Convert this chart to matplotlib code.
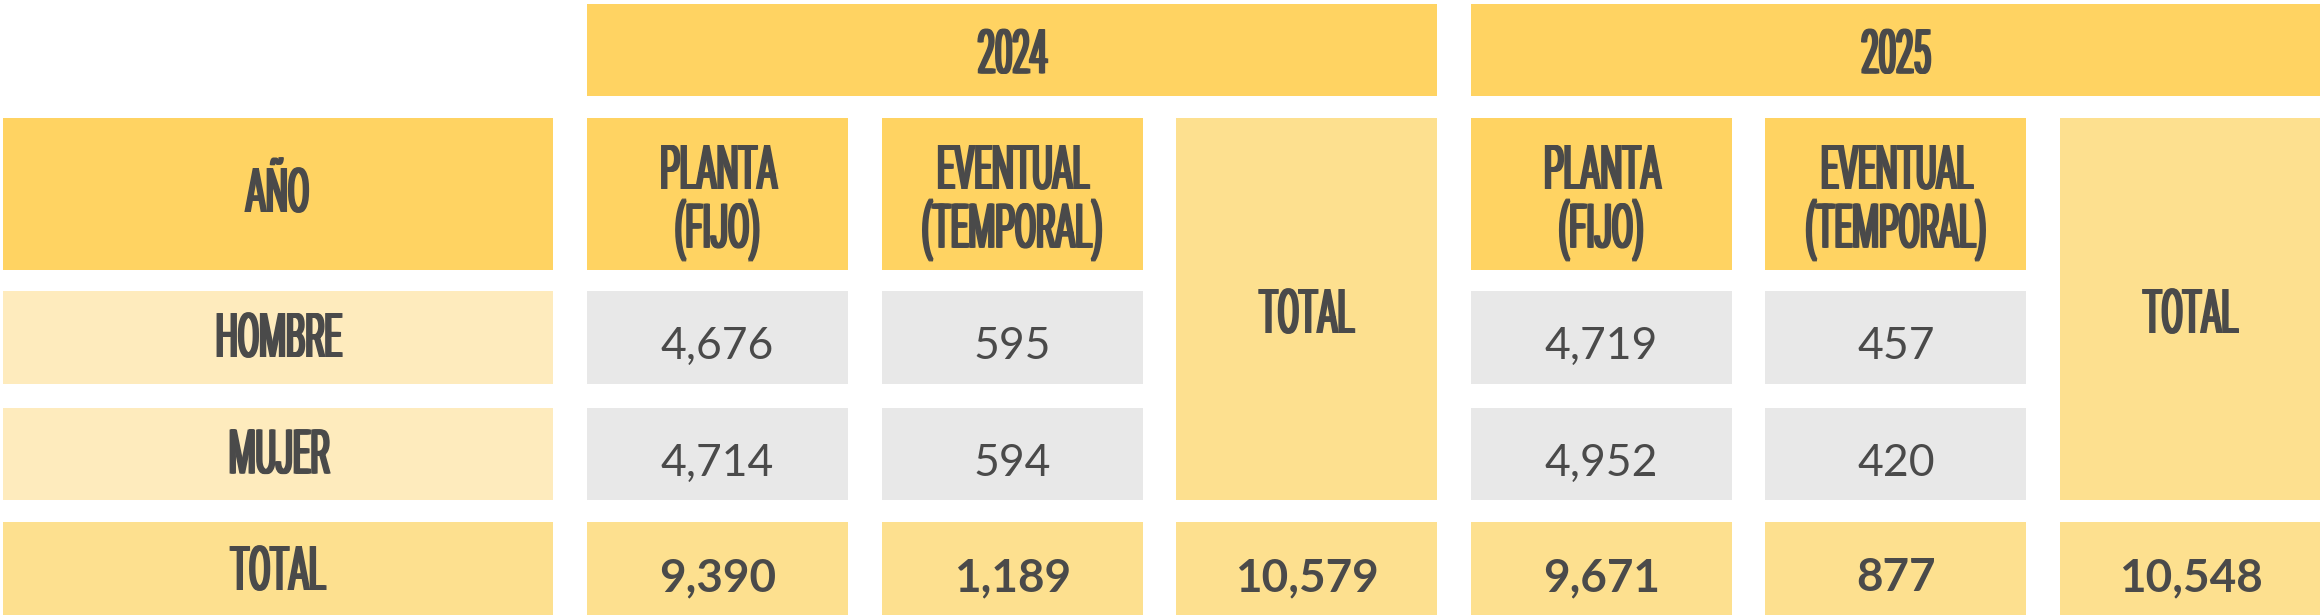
import matplotlib
matplotlib.use("Agg")
import matplotlib.pyplot as plt
from matplotlib.patches import Rectangle
from matplotlib.patheffects import AbstractPathEffect
from matplotlib.transforms import Affine2D

# ---------------- data ----------------
years = ["2024", "2025"]
sub_headers = ["PLANTA\n(FIJO)", "EVENTUAL\n(TEMPORAL)", "TOTAL"]
corner_label = "AÑO"
row_labels = ["HOMBRE", "MUJER"]
total_row_label = "TOTAL"
planta_2024 = [4676, 4714]
eventual_2024 = [595, 594]
planta_2025 = [4719, 4952]
eventual_2025 = [457, 420]
totals_2024 = [9390, 1189, 10579]
totals_2025 = [9671, 877, 10548]

# ---------------- style ----------------
C_HEAD = "#FFD362"
C_LIGHT = "#FDE08F"
C_PALE = "#FEEBBD"
C_GRAY = "#E8E8E8"
C_TEXT = "#4A4A4A"

HEAD_FONT = ["Roboto", "DejaVu Sans"]
NUM_FONT = ["Lato", "DejaVu Sans"]


class Condense(AbstractPathEffect):
    """Narrow glyphs horizontally around each line's centre and thicken
    the vertical stems slightly (condensed display-face look)."""

    def __init__(self, sx, smear):
        super().__init__()
        self.sx = sx
        self.smear = smear

    def draw_path(self, renderer, gc, tpath, affine, rgbFace=None):
        ext = tpath.get_extents()
        c = (ext.x0 + ext.x1) / 2.0
        a = Affine2D().translate(-c, 0).scale(self.sx, 1.0).translate(c, 0) + affine
        n = 5
        for i in range(n):
            dx = -self.smear / 2 + self.smear * i / (n - 1)
            renderer.draw_path(gc, tpath, a + Affine2D().translate(dx, 0), rgbFace)


W, H = 2320, 616
fig = plt.figure(figsize=(W / 100, H / 100), dpi=100)
ax = fig.add_axes([0, 0, 1, 1])
ax.set_xlim(0, W)
ax.set_ylim(H, 0)
ax.axis("off")

# layout grid (pixels)
label_x, label_w = 3, 550
col_x0, col_pitch, col_w = 587, 294.6, 261
yr_top, yr_h = 4, 92
sub_top, sub_h = 118, 152
row_tops = [291, 407.5]
row_h = 92.5
tot_top = 522

cond = [Condense(0.5, 3.5)]


def head_text(x, y, s, **kw):
    # y is the baseline of the last line
    ax.text(x, y, s, ha="center", va="baseline", color=C_TEXT,
            family=HEAD_FONT, fontweight="normal", fontsize=44.5,
            path_effects=cond, linespacing=0.95, **kw)


def num_text(x, y, v, bold=False):
    ax.text(x, y, f"{v:,}", ha="center", va="baseline", color=C_TEXT,
            family=NUM_FONT, fontweight="bold" if bold else "normal",
            fontsize=33 if bold else 32)


def box(x, y, w, h, c):
    ax.add_patch(Rectangle((x, y), w, h, facecolor=c, edgecolor="none"))


# left label column
box(label_x, sub_top, label_w, sub_h, C_HEAD)
head_text(label_x + label_w / 2, sub_top + 94, corner_label)
for r, lab in enumerate(row_labels):
    box(label_x, row_tops[r], label_w, row_h, C_PALE)
    head_text(label_x + label_w / 2, row_tops[r] + 66, lab)
box(label_x, tot_top, label_w, row_h, C_LIGHT)
head_text(label_x + label_w / 2, tot_top + 68, total_row_label)

year_values = [
    (planta_2024, eventual_2024, totals_2024),
    (planta_2025, eventual_2025, totals_2025),
]

for g, year in enumerate(years):
    gx = col_x0 + g * 3 * col_pitch
    gw = 2 * col_pitch + col_w
    box(gx, yr_top, gw, yr_h, C_HEAD)
    head_text(gx + gw / 2, yr_top + 69.3, year)
    planta, eventual, totals = year_values[g]
    for k in range(3):
        cx = gx + k * col_pitch
        mid = cx + col_w / 2
        if k < 2:
            box(cx, sub_top, col_w, sub_h, C_HEAD)
            head_text(mid, sub_top + 129.7, sub_headers[k])
            vals = planta if k == 0 else eventual
            for r in range(len(row_labels)):
                box(cx, row_tops[r], col_w, row_h, C_GRAY)
                num_text(mid, row_tops[r] + 68, vals[r])
        else:
            span_h = row_tops[-1] + row_h - sub_top
            box(cx, sub_top, col_w, span_h, C_LIGHT)
            head_text(mid, sub_top + 215, sub_headers[k])
        box(cx, tot_top, col_w, row_h, C_LIGHT)
        num_text(mid, tot_top + 69, totals[k], bold=True)

fig.savefig("out.png", dpi=100, facecolor="white")
